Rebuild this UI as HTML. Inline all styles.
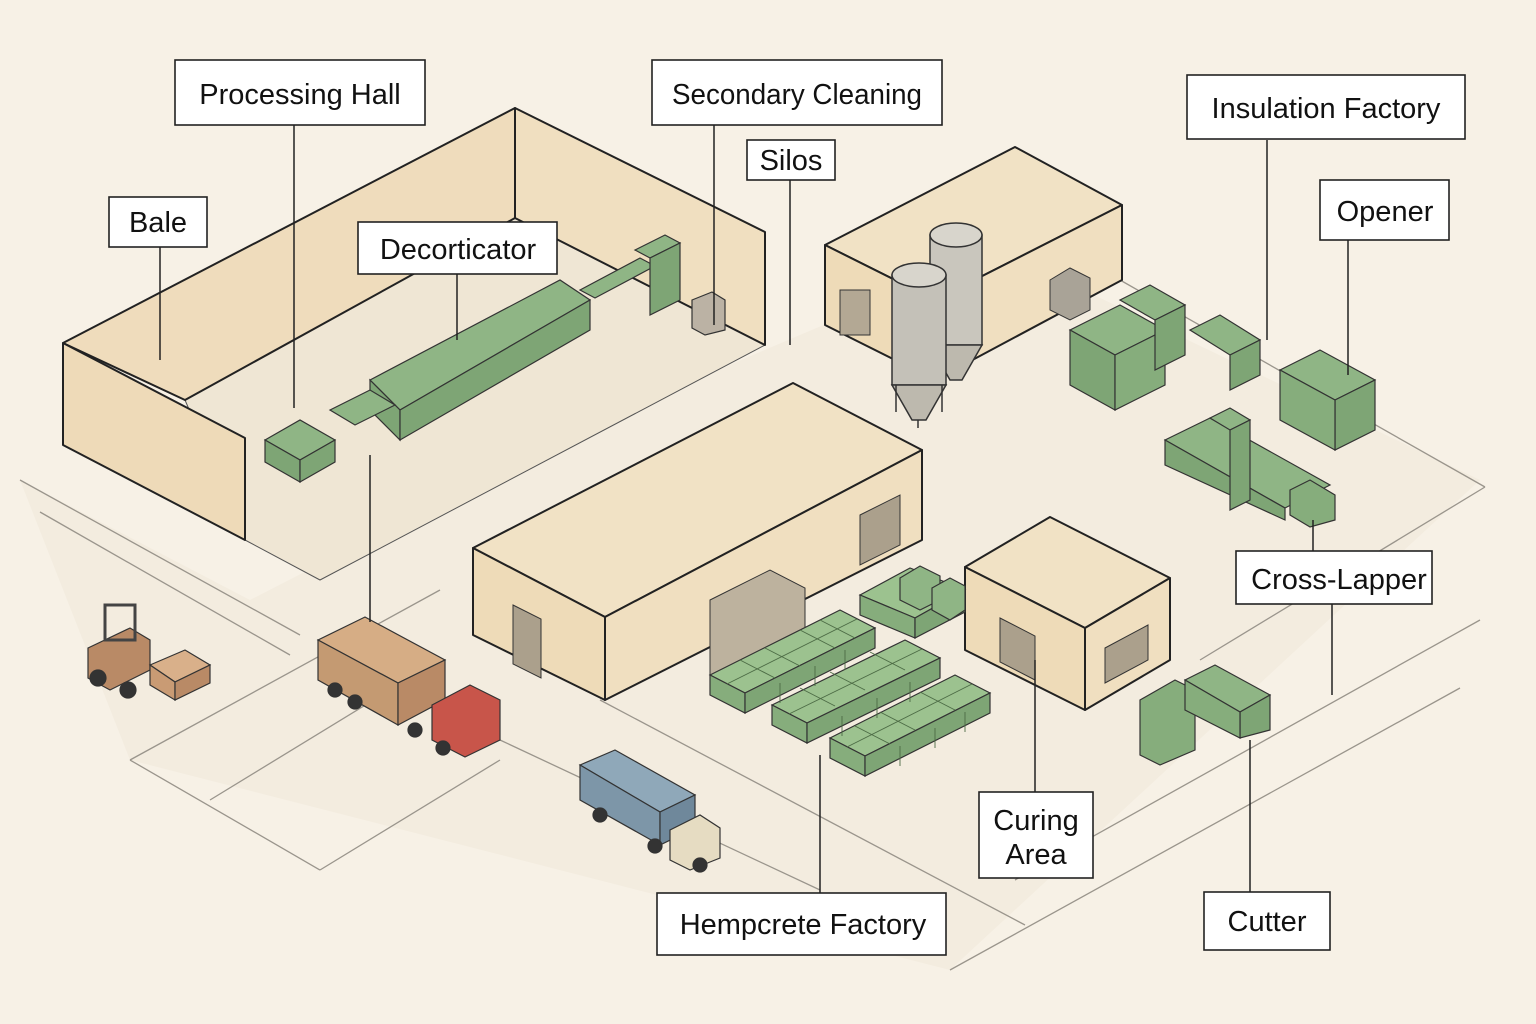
<!DOCTYPE html>
<html><head><meta charset="utf-8"><style>
html,body{margin:0;padding:0;background:#f7f1e6}
svg{display:block}
.lbl{fill:#fff;stroke:#222;stroke-width:1.6}
text{font-family:"Liberation Sans",sans-serif;fill:#111}
</style></head><body>
<svg width="1536" height="1024" viewBox="0 0 1536 1024" xmlns="http://www.w3.org/2000/svg">
<rect width="1536" height="1024" fill="#f7f1e6"/>
<polygon points="20,480 250,600 600,420 1000,250 1480,480 950,970 130,760" fill="#f3ecdf"/>
<g stroke="#9a958c" stroke-width="1.3" fill="none">
<line x1="20" y1="480" x2="300" y2="635"/>
<line x1="40" y1="512" x2="290" y2="655"/>
<line x1="130" y1="760" x2="320" y2="870"/>
<line x1="210" y1="800" x2="390" y2="690"/>
<line x1="130" y1="760" x2="440" y2="590"/>
<line x1="320" y1="870" x2="500" y2="760"/>
<line x1="500" y1="740" x2="820" y2="890"/>
<line x1="600" y1="700" x2="1025" y2="925"/>
<line x1="950" y1="970" x2="1460" y2="688"/>
<line x1="1015" y1="880" x2="1480" y2="620"/>
<line x1="1485" y1="487" x2="1200" y2="660"/>
<line x1="1120" y1="280" x2="1485" y2="487"/>
</g>
<g stroke="#222" stroke-width="2" stroke-linejoin="round">
<polygon points="185,400 515,218 765,345 320,580 245,540" fill="#efe6d4" stroke="#555" stroke-width="1"/>
<polygon points="63,343 515,108 515,218 185,400 63,343" fill="#efdcbc"/>
<polygon points="515,108 765,232 765,345 515,218" fill="#f0dfc0"/>
<polygon points="63,343 245,438 245,540 63,445" fill="#eedab8"/>
</g>
<g stroke="#333" stroke-width="1.2" fill="#8fb585">
<polygon points="370,380 560,280 590,300 400,410"/>
<polygon points="370,380 400,410 400,440 370,410" fill="#7ea575"/>
<polygon points="400,410 590,300 590,330 400,440" fill="#7ea575"/>
<polygon points="265,440 300,420 335,440 300,460"/>
<polygon points="265,440 300,460 300,482 265,462" fill="#7ea575"/>
<polygon points="300,460 335,440 335,462 300,482" fill="#7ea575"/>
<polygon points="330,410 370,390 395,405 355,425"/>
<polygon points="580,290 640,258 655,266 595,298"/>
<polygon points="635,250 665,235 680,243 650,258"/>
<polygon points="650,258 680,243 680,300 650,315" fill="#7ea575"/>
<polygon points="692,300 712,292 725,300 725,330 705,335 692,328" fill="#bbb2a4"/>
</g>
<g stroke="#222" stroke-width="2" stroke-linejoin="round">
<polygon points="825,245 1015,147 1122,205 935,300" fill="#f1e2c5"/>
<polygon points="825,245 935,300 935,380 825,325" fill="#eedbb8"/>
<polygon points="935,300 1122,205 1122,280 935,380" fill="#f0dfc0"/>
</g>
<rect x="840" y="290" width="30" height="45" fill="#b3a894" stroke="#333"/>
<polygon points="1050,280 1070,268 1090,278 1090,310 1070,320 1050,310" fill="#a9a397" stroke="#333"/>
<g stroke="#333" stroke-width="1.5">
<rect x="930" y="235" width="52" height="110" fill="#c9c6bd"/>
<ellipse cx="956" cy="235" rx="26" ry="12" fill="#d8d5cc"/>
<polygon points="930,345 982,345 962,380 950,380" fill="#bdb9ae"/>
<rect x="892" y="275" width="54" height="110" fill="#c4c1b8"/>
<ellipse cx="919" cy="275" rx="27" ry="12" fill="#d8d5cc"/>
<polygon points="892,385 946,385 926,420 912,420" fill="#bdb9ae"/>
<line x1="896" y1="385" x2="896" y2="412"/><line x1="942" y1="385" x2="942" y2="412"/>
<line x1="918" y1="420" x2="918" y2="428"/>
</g>
<g stroke="#333" stroke-width="1.2" fill="#8fb585">
<polygon points="1070,330 1120,305 1165,330 1115,355"/>
<polygon points="1070,330 1115,355 1115,410 1070,385" fill="#7ea575"/>
<polygon points="1115,355 1165,330 1165,385 1115,410" fill="#86ad7c"/>
<polygon points="1120,300 1150,285 1185,305 1155,320"/>
<polygon points="1155,320 1185,305 1185,355 1155,370" fill="#7ea575"/>
<polygon points="1190,330 1220,315 1260,340 1230,355"/>
<polygon points="1230,355 1260,340 1260,375 1230,390" fill="#7ea575"/>
<polygon points="1280,370 1320,350 1375,380 1335,400"/>
<polygon points="1335,400 1375,380 1375,430 1335,450" fill="#7ea575"/>
<polygon points="1280,370 1335,400 1335,450 1280,420" fill="#86ad7c"/>
<polygon points="1165,440 1210,418 1330,485 1285,508"/>
<polygon points="1165,440 1285,508 1285,520 1165,465" fill="#7ea575"/>
<polygon points="1210,418 1230,408 1250,420 1230,430"/>
<polygon points="1230,430 1250,420 1250,500 1230,510" fill="#7ea575"/>
<polygon points="1290,490 1310,480 1335,495 1335,520 1310,527 1290,515" fill="#86ad7c"/>
<polygon points="1140,700 1175,680 1195,690 1195,750 1160,765 1140,755" fill="#86ad7c"/>
<polygon points="1185,680 1215,665 1270,695 1240,712"/>
<polygon points="1240,712 1270,695 1270,730 1240,738" fill="#7ea575"/>
<polygon points="1185,680 1240,712 1240,738 1185,710" fill="#86ad7c"/>
</g>
<g stroke="#222" stroke-width="2" stroke-linejoin="round">
<polygon points="473,548 793,383 922,450 605,617" fill="#f1e2c5"/>
<polygon points="473,548 605,617 605,700 473,635" fill="#eedbb8"/>
<polygon points="605,617 922,450 922,540 605,700" fill="#f0dfc0"/>
</g>
<polygon points="513,605 541,619 541,678 513,664" fill="#aba08c" stroke="#333"/>
<polygon points="710,600 770,570 805,588 805,630 710,680" fill="#bdb29e" stroke="#333"/>
<polygon points="860,515 900,495 900,545 860,565" fill="#aba08c" stroke="#333"/>
<g stroke="#222" stroke-width="2" stroke-linejoin="round">
<polygon points="965,567 1050,517 1170,578 1085,628" fill="#f1e2c5"/>
<polygon points="965,567 1085,628 1085,710 965,650" fill="#eedbb8"/>
<polygon points="1085,628 1170,578 1170,660 1085,710" fill="#f0dfc0"/>
</g>
<polygon points="1000,618 1035,636 1035,680 1000,662" fill="#aba08c" stroke="#333"/>
<polygon points="1105,648 1148,625 1148,660 1105,683" fill="#aba08c" stroke="#333"/>
<g stroke="#333" stroke-width="1.2">
<polygon points="710,675 840,610 875,628 745,693" fill="#9cc28f"/>
<polygon points="710,675 745,693 745,713 710,695" fill="#86ad7c"/>
<polygon points="745,693 875,628 875,648 745,713" fill="#7ea575"/>
<polygon points="772,705 905,640 940,658 807,723" fill="#9cc28f"/>
<polygon points="772,705 807,723 807,743 772,725" fill="#86ad7c"/>
<polygon points="807,723 940,658 940,678 807,743" fill="#7ea575"/>
<polygon points="830,738 955,675 990,693 865,756" fill="#9cc28f"/>
<polygon points="830,738 865,756 865,776 830,758" fill="#86ad7c"/>
<polygon points="865,756 990,693 990,713 865,776" fill="#7ea575"/>
<polygon points="860,595 910,568 965,590 915,618" fill="#9cc28f"/>
<polygon points="860,595 915,618 915,638 860,615" fill="#86ad7c"/>
<polygon points="915,618 965,590 965,612 915,638" fill="#7ea575"/>
<polygon points="900,578 920,566 940,576 940,600 920,610 900,600" fill="#8fb585"/>
<polygon points="932,588 950,578 965,586 965,610 950,620 932,610" fill="#8fb585"/>
</g>
<g stroke="#4c6b45" stroke-width="0.9">
<line x1="727" y1="684" x2="857" y2="619"/><line x1="789" y1="714" x2="922" y2="649"/><line x1="847" y1="747" x2="972" y2="684"/>
<line x1="765" y1="648" x2="800" y2="666"/><line x1="800" y1="630" x2="835" y2="648"/><line x1="740" y1="660" x2="775" y2="678"/><line x1="820" y1="620" x2="855" y2="638"/>
<line x1="830" y1="672" x2="865" y2="690"/><line x1="870" y1="652" x2="905" y2="670"/><line x1="800" y1="688" x2="835" y2="706"/>
<line x1="880" y1="712" x2="915" y2="730"/><line x1="920" y1="692" x2="955" y2="710"/><line x1="855" y1="726" x2="890" y2="744"/>
<line x1="780" y1="683" x2="780" y2="703"/><line x1="815" y1="666" x2="815" y2="686"/><line x1="845" y1="650" x2="845" y2="670"/>
<line x1="842" y1="716" x2="842" y2="736"/><line x1="877" y1="698" x2="877" y2="718"/><line x1="910" y1="682" x2="910" y2="702"/>
<line x1="900" y1="746" x2="900" y2="766"/><line x1="935" y1="728" x2="935" y2="748"/><line x1="965" y1="712" x2="965" y2="732"/>
</g>
<g stroke="#333" stroke-width="1.2">
<polygon points="88,648 130,628 150,640 150,670 110,690 88,678" fill="#b98a66"/>
<rect x="105" y="605" width="30" height="35" fill="none" stroke="#444" stroke-width="3"/>
<polygon points="150,665 185,650 210,665 175,682" fill="#d9b08a"/>
<polygon points="150,665 175,682 175,700 150,685" fill="#c99b74"/>
<polygon points="175,682 210,665 210,683 175,700" fill="#b98a66"/>
<circle cx="98" cy="678" r="8" fill="#333"/><circle cx="128" cy="690" r="8" fill="#333"/>
</g>
<g stroke="#333" stroke-width="1.2">
<polygon points="318,640 365,617 445,660 398,683" fill="#d6ad85"/>
<polygon points="318,640 398,683 398,725 318,680" fill="#c49a72"/>
<polygon points="398,683 445,660 445,700 398,725" fill="#b98a66"/>
<polygon points="432,705 470,685 500,700 500,740 465,757 432,740" fill="#c8554a"/>
<circle cx="335" cy="690" r="7" fill="#333"/><circle cx="355" cy="702" r="7" fill="#333"/>
<circle cx="415" cy="730" r="7" fill="#333"/><circle cx="443" cy="748" r="7" fill="#333"/>
</g>
<g stroke="#333" stroke-width="1.2">
<polygon points="580,765 615,750 695,795 660,812" fill="#8fa8b9"/>
<polygon points="580,765 660,812 660,845 580,800" fill="#7d96a8"/>
<polygon points="660,812 695,795 695,828 660,845" fill="#6f889b"/>
<polygon points="670,830 700,815 720,828 720,858 690,870 670,860" fill="#e6dcc2"/>
<circle cx="600" cy="815" r="7" fill="#333"/><circle cx="655" cy="846" r="7" fill="#333"/><circle cx="700" cy="865" r="7" fill="#333"/>
</g>
<g stroke="#222" stroke-width="1.5">
<line x1="294" y1="125" x2="294" y2="408"/>
<line x1="714" y1="125" x2="714" y2="325"/>
<line x1="790" y1="180" x2="790" y2="345"/>
<line x1="1267" y1="140" x2="1267" y2="340"/>
<line x1="1348" y1="240" x2="1348" y2="375"/>
<line x1="160" y1="247" x2="160" y2="360"/>
<line x1="457" y1="274" x2="457" y2="340"/>
<line x1="370" y1="455" x2="370" y2="622"/>
<line x1="1313" y1="520" x2="1313" y2="551"/>
<line x1="1332" y1="604" x2="1332" y2="695"/>
<line x1="1035" y1="660" x2="1035" y2="792"/>
<line x1="820" y1="755" x2="820" y2="893"/>
<line x1="1250" y1="740" x2="1250" y2="892"/>
</g>
<g font-size="29">
<rect class="lbl" x="175" y="60" width="250" height="65"/><text x="300" y="104" text-anchor="middle">Processing Hall</text>
<rect class="lbl" x="652" y="60" width="290" height="65"/><text x="797" y="104" text-anchor="middle" textLength="250" lengthAdjust="spacingAndGlyphs">Secondary Cleaning</text>
<rect class="lbl" x="747" y="140" width="88" height="40"/><text x="791" y="170" text-anchor="middle">Silos</text>
<rect class="lbl" x="1187" y="75" width="278" height="64"/><text x="1326" y="118" text-anchor="middle">Insulation Factory</text>
<rect class="lbl" x="1320" y="180" width="129" height="60"/><text x="1385" y="221" text-anchor="middle">Opener</text>
<rect class="lbl" x="109" y="197" width="98" height="50"/><text x="158" y="232" text-anchor="middle">Bale</text>
<rect class="lbl" x="358" y="222" width="199" height="52"/><text x="458" y="259" text-anchor="middle">Decorticator</text>
<rect class="lbl" x="1236" y="551" width="196" height="53"/><text x="1339" y="589" text-anchor="middle">Cross-Lapper</text>
<rect class="lbl" x="979" y="792" width="114" height="86"/><text x="1036" y="830" text-anchor="middle">Curing</text><text x="1036" y="864" text-anchor="middle">Area</text>
<rect class="lbl" x="657" y="893" width="289" height="62"/><text x="803" y="934" text-anchor="middle">Hempcrete Factory</text>
<rect class="lbl" x="1204" y="892" width="126" height="58"/><text x="1267" y="931" text-anchor="middle">Cutter</text>
</g>
</svg>
</body></html>
